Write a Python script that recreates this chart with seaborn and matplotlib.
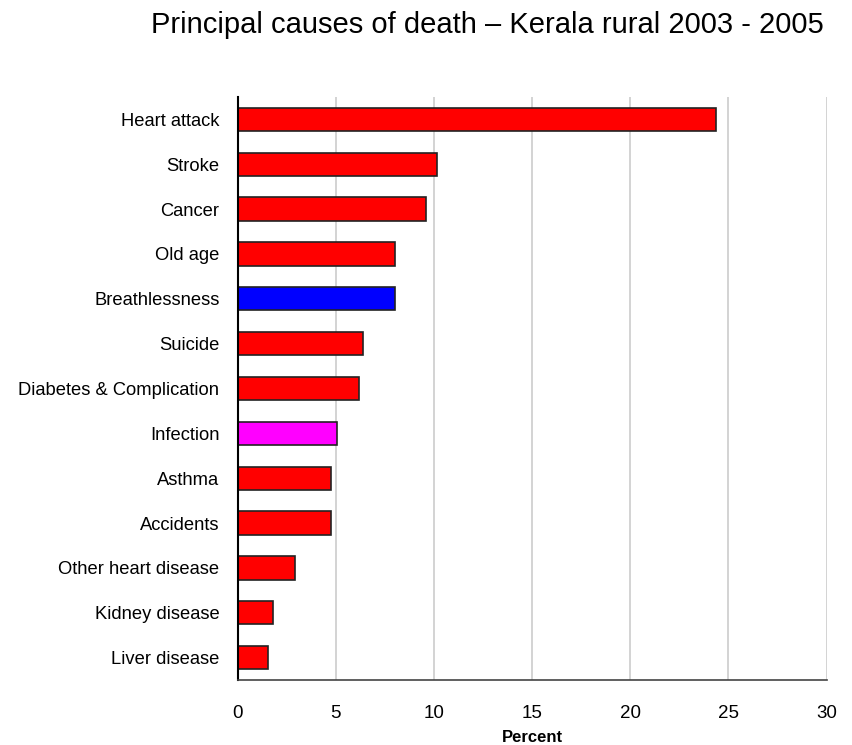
import matplotlib
matplotlib.use("Agg")
import matplotlib.pyplot as plt
import seaborn as sns
import pandas as pd

causes = ["Heart attack", "Stroke", "Cancer", "Old age", "Breathlessness", "Suicide",
          "Diabetes & Complication", "Infection", "Asthma", "Accidents",
          "Other heart disease", "Kidney disease", "Liver disease"]
percent = [24.35, 10.17, 9.61, 8.0, 8.0, 6.37, 6.17, 5.05, 4.76, 4.76, 2.94, 1.82, 1.55]
colors = ["#ff0000", "#ff0000", "#ff0000", "#ff0000", "#0000ff", "#ff0000", "#ff0000",
          "#ff00ff", "#ff0000", "#ff0000", "#ff0000", "#ff0000", "#ff0000"]
xticks = [0, 5, 10, 15, 20, 25, 30]

df = pd.DataFrame({"cause": causes, "percent": percent})

sns.set_style("white")
plt.rcParams["font.family"] = ["Liberation Sans", "DejaVu Sans"]
plt.rcParams["text.color"] = "black"
plt.rcParams["xtick.color"] = "black"
plt.rcParams["ytick.color"] = "black"
plt.rcParams["axes.labelcolor"] = "black"

fig = plt.figure(figsize=(8.53, 7.45), dpi=100)
ax = fig.add_axes([237.5/853, 1 - 680/745, (826.7-237.5)/853, (680-97)/745])

sns.barplot(data=df, x="percent", y="cause", hue="cause", palette=dict(zip(causes, colors)),
            legend=False, width=0.52, saturation=1, edgecolor="#222222", linewidth=1.2,
            ax=ax, orient="h")

ax.set_xlim(0, 30)
ax.set_ylim(12.5, -0.5)
ax.set_xticks(xticks)
ax.set_xticklabels([str(t) for t in xticks], fontsize=13.5)
ax.tick_params(axis="y", labelsize=13.2, length=0, pad=13)
ax.tick_params(axis="x", length=0, pad=18)
ax.set_ylabel("")
ax.set_xlabel("Percent", fontsize=12, fontweight="bold", labelpad=6)
ax.xaxis.grid(True, color="#cccccc", linewidth=1.2)
ax.set_axisbelow(True)
for s in ["top", "right"]:
    ax.spines[s].set_visible(False)
ax.spines["left"].set_color("black")
ax.spines["left"].set_linewidth(1.5)
ax.spines["bottom"].set_color("#444444")
ax.spines["bottom"].set_linewidth(1.2)

fig.text(487/853, 1 - 25/745, "Principal causes of death \u2013 Kerala rural 2003 - 2005",
         ha="center", va="center", fontsize=21)

fig.savefig("out.png", dpi=100)
